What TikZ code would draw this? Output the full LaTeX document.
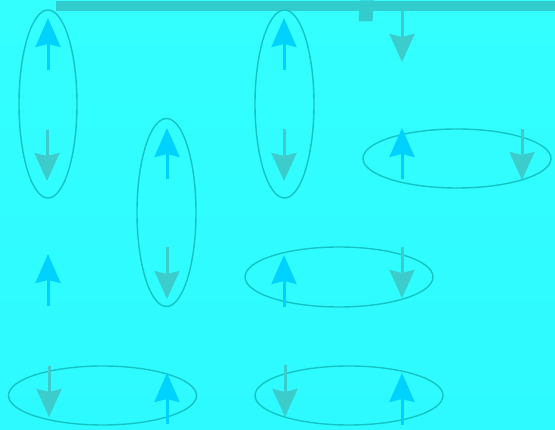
\documentclass[tikz,border=0pt]{standalone}
\usetikzlibrary{arrows.meta}
\definecolor{bgtop}{HTML}{33FFFF}
\definecolor{bgbot}{HTML}{2DFAFF}
\definecolor{upc}{HTML}{00D2FF}
\definecolor{downc}{HTML}{3DCCCC}
\definecolor{ellc}{HTML}{14C4C4}
\definecolor{barc}{HTML}{33CCCC}
\tikzset{
  upar/.style={draw=upc, line width=3pt, -{Stealth[length=29pt,width=25pt,inset=3pt]}, upc},
  downar/.style={draw=downc, line width=3pt, -{Stealth[length=28pt,width=25pt,inset=3pt]}, downc},
  orb/.style={draw=ellc, line width=1.4pt}
}
\begin{document}
\begin{tikzpicture}[x=1pt,y=-1pt]
\shade[top color=bgtop, bottom color=bgbot] (0,0) rectangle (555,430);
\useasboundingbox (0,0) rectangle (555,430);
% top bar
\fill[barc] (56,1) rectangle (555,11);
\fill[barc] (360,0.5) -- (374,0.5) -- (372.5,21.5) -- (358.5,21.5) -- cycle;
% ellipses
\draw[orb] (48,104) ellipse [x radius=29, y radius=94];
\draw[orb] (166.5,212.5) ellipse [x radius=29.5, y radius=94];
\draw[orb] (284.5,104) ellipse [x radius=29.5, y radius=94];
\draw[orb] (457,158.5) ellipse [x radius=94, y radius=29.5];
\draw[orb] (339,277) ellipse [x radius=94, y radius=30];
\draw[orb] (102.5,395.5) ellipse [x radius=94, y radius=29.5];
\draw[orb] (349,395.5) ellipse [x radius=94, y radius=29.5];
% up arrows
\draw[upar] (48,70) -- (48,18);
\draw[upar] (167,179) -- (167,128);
\draw[upar] (284,70) -- (284,18);
\draw[upar] (402,179) -- (402,128);
\draw[upar] (48,306) -- (48,254);
\draw[upar] (284,307) -- (284,255);
\draw[upar] (167,424) -- (167,373);
\draw[upar] (402,425) -- (402,373);
% down arrows
\draw[downar] (47,130) -- (47,181);
\draw[downar] (284,129) -- (284,181);
\draw[downar] (167,247) -- (167,299);
\draw[downar] (402,11) -- (402,62);
\draw[downar] (522,129) -- (522,180);
\draw[downar] (402,247) -- (402,298);
\draw[downar] (49,366) -- (49,417);
\draw[downar] (285,365) -- (285,417);
\end{tikzpicture}
\end{document}
